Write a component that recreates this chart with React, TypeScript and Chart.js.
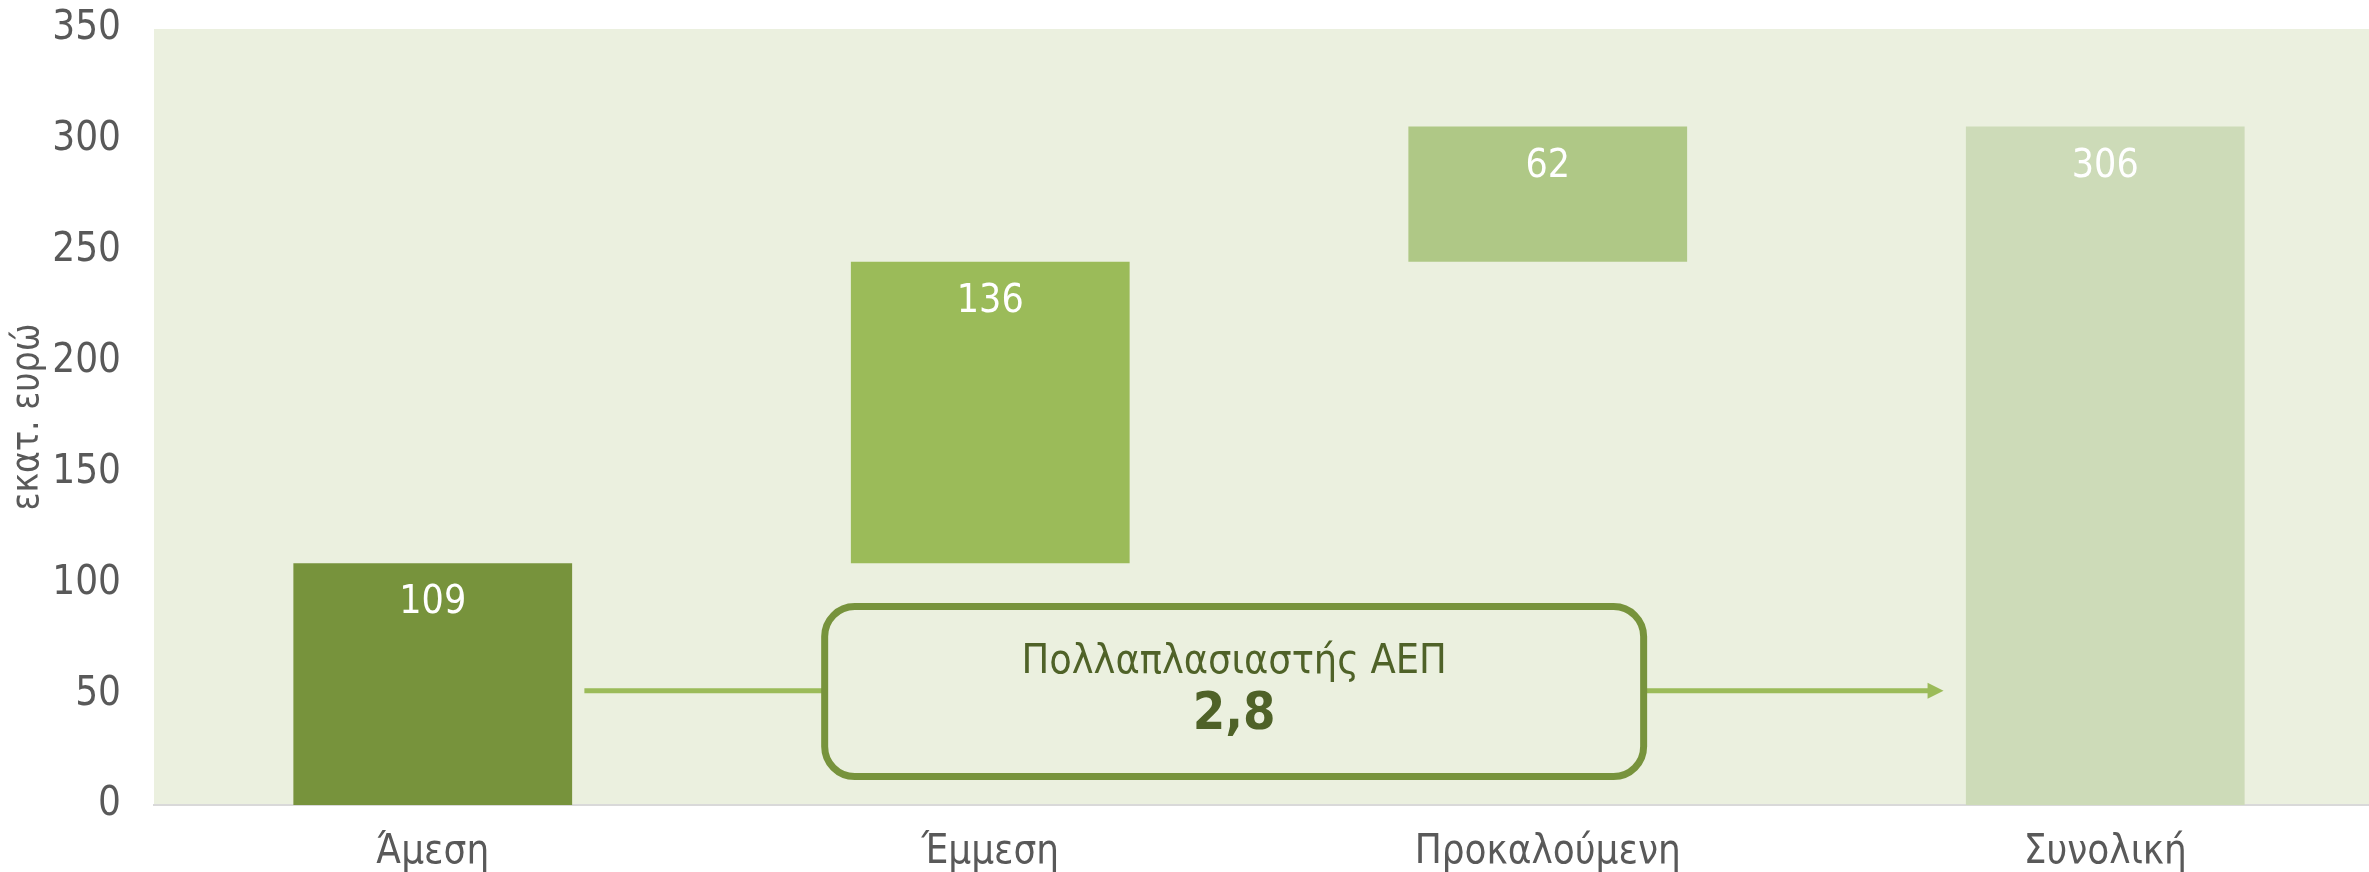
import React, { useEffect, useRef } from "react";
import { Chart, registerables } from "chart.js";

Chart.register(...registerables);

const categories = ["Άμεση", "Έμμεση", "Προκαλούμενη", "Συνολική"];
const barBases = [0, 109, 245, 0];
const barTops = [109, 245, 306, 306];
const displayValues = [109, 136, 62, 306];
const barColors = ["#77933C", "#9BBB59", "#AFC886", "#CDDBB8"];
const yTicks = [0, 50, 100, 150, 200, 250, 300, 350];
const yTitle = "εκατ. ευρώ";
const multiplierLabel = "Πολλαπλασιαστής ΑΕΠ";
const multiplierValue = "2,8";

const FONT = "'Liberation Sans Narrow', 'DejaVu Sans Condensed', 'Liberation Sans', sans-serif";

const bgPlugin = {
  id: "plotBg",
  beforeDraw(chart: any) {
    const { ctx, chartArea } = chart;
    ctx.save();
    ctx.fillStyle = "#EBF0DF";
    ctx.fillRect(chartArea.left, chartArea.top, chartArea.right - chartArea.left, chartArea.bottom - chartArea.top);
    ctx.restore();
  },
};

const labelPlugin = {
  id: "barLabels",
  afterDatasetsDraw(chart: any) {
    const { ctx } = chart;
    const meta = chart.getDatasetMeta(0);
    ctx.save();
    ctx.fillStyle = "#FFFFFF";
    ctx.font = `39px ${FONT}`;
    ctx.textAlign = "center";
    ctx.textBaseline = "middle";
    meta.data.forEach((bar: any, i: number) => {
      const top = Math.min(bar.y, bar.base);
      ctx.fillText(String(displayValues[i]), bar.x, top + 40);
    });
    ctx.restore();
  },
};

const multiplierPlugin = {
  id: "multiplier",
  afterDatasetsDraw(chart: any) {
    const { ctx } = chart;
    const xs = chart.scales.x;
    const ys = chart.scales.y;
    const arrowY = ys.getPixelForValue(51.5);
    const arrowStart = xs.getPixelForValue(0.272);
    const arrowEnd = xs.getPixelForValue(2.71);
    const boxL = xs.getPixelForValue(0.703);
    const boxR = xs.getPixelForValue(2.172);
    const boxT = ys.getPixelForValue(89.5);
    const boxB = ys.getPixelForValue(12.8);
    ctx.save();
    ctx.strokeStyle = "#9BBB59";
    ctx.lineWidth = 5;
    ctx.beginPath();
    ctx.moveTo(arrowStart, arrowY);
    ctx.lineTo(boxL, arrowY);
    ctx.moveTo(boxR, arrowY);
    ctx.lineTo(arrowEnd - 14, arrowY);
    ctx.stroke();
    ctx.fillStyle = "#9BBB59";
    ctx.beginPath();
    ctx.moveTo(arrowEnd, arrowY);
    ctx.lineTo(arrowEnd - 16, arrowY - 8);
    ctx.lineTo(arrowEnd - 16, arrowY + 8);
    ctx.closePath();
    ctx.fill();
    const r = 30;
    ctx.fillStyle = "#EBF0DF";
    ctx.strokeStyle = "#77933C";
    ctx.lineWidth = 7;
    ctx.beginPath();
    ctx.roundRect(boxL, boxT, boxR - boxL, boxB - boxT, r);
    ctx.fill();
    ctx.stroke();
    const cx = (boxL + boxR) / 2;
    ctx.fillStyle = "#4F6228";
    ctx.textAlign = "center";
    ctx.textBaseline = "middle";
    ctx.font = `41px ${FONT}`;
    ctx.fillText(multiplierLabel, cx, ys.getPixelForValue(64.3));
    ctx.font = `bold 52px ${FONT}`;
    ctx.fillText(multiplierValue, cx, ys.getPixelForValue(40.2));
    ctx.restore();
  },
};

export default function App() {
  const ref = useRef<HTMLCanvasElement | null>(null);
  useEffect(() => {
    if (!ref.current) return;
    const chart = new Chart(ref.current, {
      type: "bar",
      data: {
        labels: categories,
        datasets: [
          {
            data: categories.map((_, i) => [barBases[i], barTops[i]]) as any,
            backgroundColor: barColors,
            borderWidth: 0,
            barPercentage: 0.5,
            categoryPercentage: 1,
          },
        ],
      },
      options: {
        animation: false,
        responsive: false,
        layout: { padding: { top: 29, right: 0, bottom: 0, left: 0 } },
        plugins: { legend: { display: false }, tooltip: { enabled: false } },
        scales: {
          x: {
            grid: { display: false, drawTicks: false },
            border: { display: true, color: "#D9D9D9", width: 2 },
            ticks: { color: "#595959", font: { family: FONT, size: 40 }, padding: 24 },
            afterFit: (s: any) => { s.height = 67; s.paddingLeft = 0; s.paddingRight = 0; },
          },
          y: {
            min: 0,
            max: 350,
            afterBuildTicks: (s: any) => { s.ticks = yTicks.map((v) => ({ value: v })); },
            grid: { display: false, drawTicks: false },
            border: { display: false },
            ticks: { color: "#595959", font: { family: FONT, size: 40 }, padding: 33 },
            title: {
              display: true,
              text: yTitle,
              color: "#595959",
              font: { family: FONT, size: 37 },
              padding: { top: 6, bottom: 0 },
            },
            afterFit: (s: any) => { s.width = 154; s.paddingTop = 0; s.paddingBottom = 0; },
          },
        },
      },
      plugins: [bgPlugin, labelPlugin, multiplierPlugin],
    });
    return () => chart.destroy();
  }, []);
  return (
    <div style={{ position: "fixed", left: 0, top: 0, width: 2369, height: 872, overflow: "hidden", background: "#fff" }}>
      <canvas ref={ref} width={2384} height={872} style={{ display: "block", width: 2384, height: 872 }} />
    </div>
  );
}
